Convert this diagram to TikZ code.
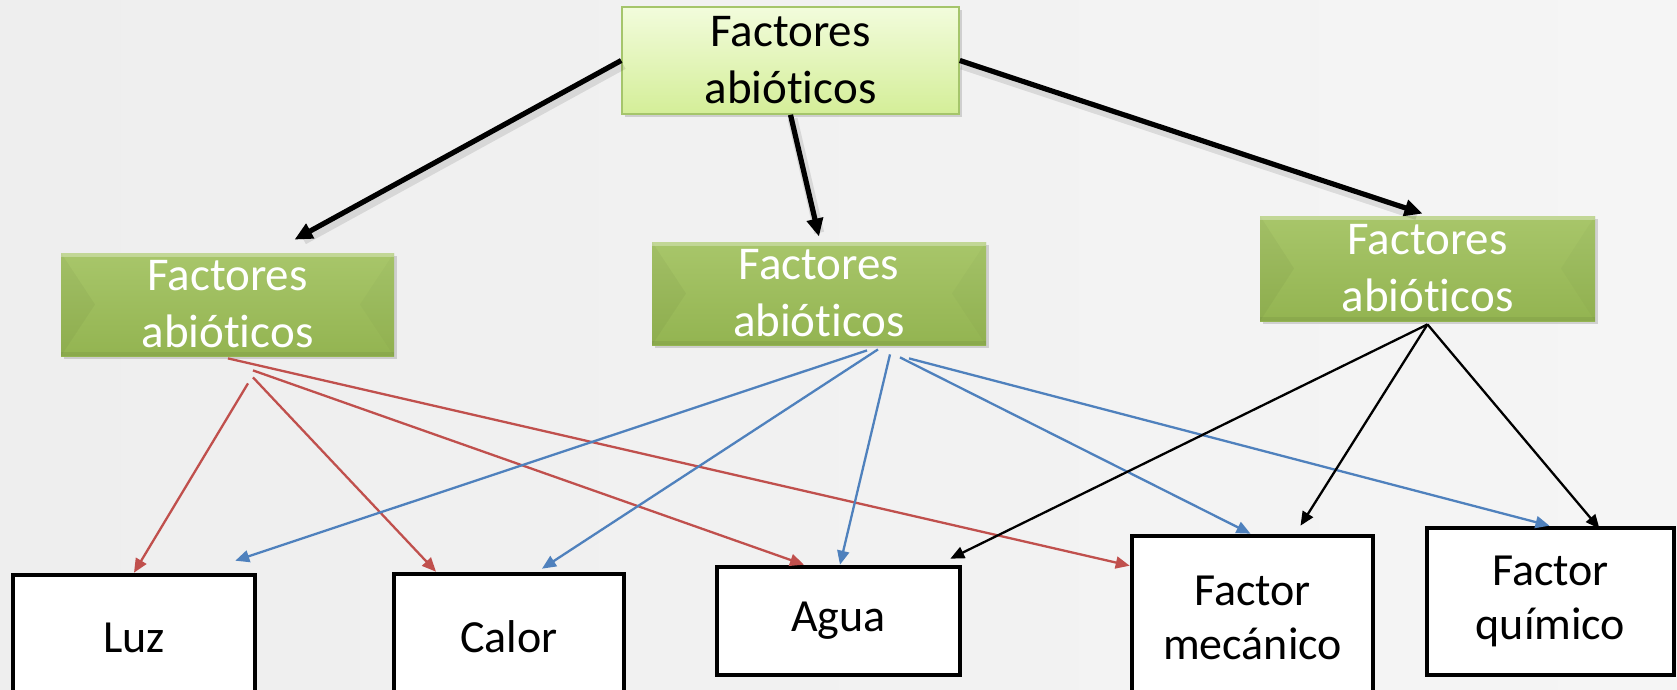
\documentclass[tikz,border=0pt]{standalone}
\usepackage{fontspec}
\setmainfont{Carlito}[Ligatures={NoCommon,NoRequired,NoContextual}]
\usetikzlibrary{arrows.meta,calc,shadows}
\definecolor{bgl}{HTML}{EEEEEE}
\definecolor{bgr}{HTML}{F5F5F5}
\definecolor{gtop}{HTML}{A8C66A}
\definecolor{gbot}{HTML}{93B451}
\definecolor{ltop}{HTML}{F2FCDC}
\definecolor{lbot}{HTML}{D4EE98}
\definecolor{lborder}{HTML}{A5C56B}
\definecolor{redl}{HTML}{C0504D}
\definecolor{bluel}{HTML}{4F81BD}
\begin{document}
\begin{tikzpicture}[x=0.5pt,y=-0.5pt,
  boxfont/.style={font=\fontsize{23.5}{28.5}\selectfont, align=center},
  topbox/.style={rectangle, boxfont, draw=lborder, line width=0.8pt,
    top color=ltop, bottom color=lbot, inner sep=0pt,
    drop shadow={shadow xshift=1.5pt, shadow yshift=-1.5pt, opacity=0.3}},
  greenbox/.style={rectangle, boxfont, text=white, inner sep=0pt,
    top color=gtop, bottom color=gbot,
    drop shadow={shadow xshift=1.5pt, shadow yshift=-1.5pt, opacity=0.3},
    path picture={
      \fill[black,opacity=0.035] (path picture bounding box.north west)
        -- ($(path picture bounding box.west)+(34,0)$) -- (path picture bounding box.south west) -- cycle;
      \fill[black,opacity=0.02] (path picture bounding box.north east)
        -- ($(path picture bounding box.east)+(-34,0)$) -- (path picture bounding box.south east) -- cycle;
      \fill[white,opacity=0.3] (path picture bounding box.north west) rectangle ($(path picture bounding box.north east)+(0,4)$);
      \fill[black,opacity=0.06] (path picture bounding box.south west) rectangle ($(path picture bounding box.south east)+(0,-4)$);
    }},
  whitebox/.style={rectangle, draw=black, fill=white, line width=2.3pt, inner sep=0pt,
    font=\fontsize{23}{27}\selectfont, align=center},
  thinarrow/.style={line width=1.15pt, -{Triangle[length=7pt,width=6pt]}},
  thickarrow/.style={line width=2.6pt, -{Triangle[length=9pt,width=8pt]}},
  thickshadow/.style={line width=5pt, draw=black, opacity=0.1, shorten >=4pt}
]
\fill[left color=bgl, right color=bgr] (0,0) rectangle (1677,690);
\useasboundingbox (0,0) rectangle (1677,690);

% nodes
\node[topbox, minimum width=168.5pt, minimum height=53.5pt] (top) at (790.5,60.5) {Factores\\abióticos};
\node[greenbox, minimum width=166.5pt, minimum height=51.5pt] (gl) at (227.5,304.5) {Factores\\abióticos};
\node[greenbox, minimum width=167pt, minimum height=51.5pt] (gm) at (819,293.5) {Factores\\abióticos};
\node[greenbox, minimum width=167.5pt, minimum height=52.5pt] (gr) at (1427.5,268.5) {Factores\\abióticos};

\node[whitebox, minimum width=121pt, minimum height=62.5pt] (luz) at (134,637.5) {Luz};
\node[whitebox, minimum width=115pt, minimum height=63pt] (calor) at (509,637) {Calor};
\node[whitebox, minimum width=121.5pt, minimum height=54pt] (agua) at (838.5,621) {Agua};
\node[whitebox, minimum width=120.5pt, minimum height=82pt] (mec) at (1252.5,618) {Factor\\mecánico};
\node[whitebox, minimum width=123.5pt, minimum height=73.5pt] (quim) at (1550.5,601.5) {Factor\\químico};

% thick black arrows with soft shadow
\draw[thickshadow] ($(top.west)+(2,4)$) -- ($(gl.north)+(69,-9)$);
\draw[thickshadow] ($(top.south)+(2,4)$) -- ($(gm.north)+(2,-1)$);
\draw[thickshadow] ($(top.east)+(2,4)$) -- ($(gr.north)+(-3,2)$);
\draw[thickarrow] (top.west) -- ($(gl.north)+(67,-13)$);
\draw[thickarrow] (top.south) -- ($(gm.north)+(0,-5)$);
\draw[thickarrow] (top.east) -- ($(gr.north)+(-5,-2)$);

% red arrows
\draw[thinarrow, redl] ($(gl.south)+(20.5,27)$) -- (luz.north);
\draw[thinarrow, redl] ($(gl.south)+(25.5,21)$) -- ($(calor.north)+(-73,0)$);
\draw[thinarrow, redl] ($(gl.south)+(25.5,14)$) -- ($(agua.north)+(-34.5,0)$);
\draw[thinarrow, redl] ($(gl.south)+(0.5,2)$) -- ($(mec.north west)+(0,32)$);

% blue arrows
\draw[thinarrow, bluel] ($(gm.south)+(48,5)$) -- ($(luz.north east)+(-22,-12)$);
\draw[thinarrow, bluel] ($(gm.south)+(59,4)$) -- ($(calor.north)+(33,-3)$);
\draw[thinarrow, bluel] ($(gm.south)+(71,9)$) -- ($(agua.north)+(1.5,0)$);
\draw[thinarrow, bluel] ($(gm.south)+(81,12)$) -- ($(mec.north)+(-2,0)$);
\draw[thinarrow, bluel] ($(gm.south)+(90,13)$) -- ($(quim.north)+(-1,0)$);

% black thin arrows
\draw[thinarrow, black] ($(gr.south)+(0,3)$) -- ($(agua.north east)+(-12,-6)$);
\draw[thinarrow, black] ($(gr.south)+(0,3)$) -- ($(mec.north)+(48,-8)$);
\draw[thinarrow, black] ($(gr.south)+(0,3)$) -- ($(quim.north)+(49,3)$);
\end{tikzpicture}
\end{document}
